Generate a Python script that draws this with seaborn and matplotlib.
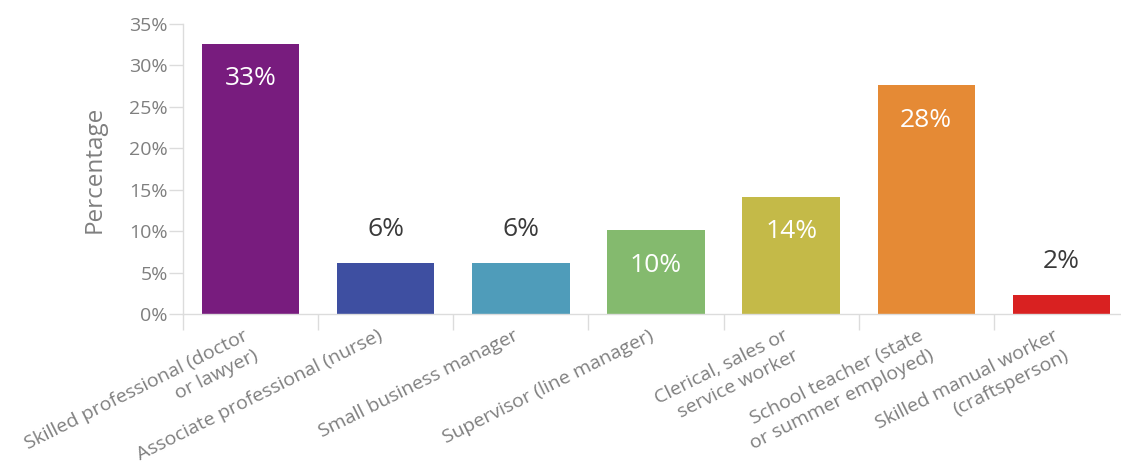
import matplotlib
matplotlib.use("Agg")
import matplotlib.pyplot as plt
import matplotlib.transforms as mtransforms
import seaborn as sns
import pandas as pd
from matplotlib.ticker import FuncFormatter, FixedLocator

occupations = [
    "Skilled professional (doctor\nor lawyer)",
    "Associate professional (nurse)",
    "Small business manager",
    "Supervisor (line manager)",
    "Clerical, sales or\nservice worker",
    "School teacher (state\nor summer employed)",
    "Skilled manual worker\n(craftsperson)",
]
percentages = [32.6, 6.2, 6.2, 10.1, 14.1, 27.6, 2.3]
bar_colors = ["#781c7e", "#3e4fa1", "#4f9cba", "#84ba6e", "#c4ba48", "#e58a35", "#d92121"]

sns.set_theme(style="white")
plt.rcParams["font.family"] = ["Open Sans", "DejaVu Sans"]

W, H = 1121, 470
fig = plt.figure(figsize=(W / 100, H / 100), dpi=100)
left, right, top, bottom = 183, 1129, 24, 314
ax = fig.add_axes([left / W, 1 - bottom / H, (right - left) / W, (bottom - top) / H])

df = pd.DataFrame({"occupation": occupations, "pct": percentages})
sns.barplot(data=df, x="occupation", y="pct", hue="occupation",
            palette=bar_colors, width=0.72, legend=False, ax=ax,
            saturation=1, linewidth=0)

ax.set_xlim(-0.5, len(occupations) - 0.5)
ax.set_ylim(0, 35)
ax.set_yticks(range(0, 36, 5))
ax.yaxis.set_major_formatter(FuncFormatter(lambda v, _: f"{v:.0f}%"))

axis_gray = "#dcdcdc"
text_gray = "#7f7f7f"
for side in ["top", "right"]:
    ax.spines[side].set_visible(False)
for side in ["left", "bottom"]:
    ax.spines[side].set_color(axis_gray)
    ax.spines[side].set_linewidth(1)

ax.tick_params(axis="y", which="major", length=10, width=1, color=axis_gray,
               labelcolor=text_gray, labelsize=14, pad=1, left=True)
ax.tick_params(axis="x", which="major", length=0, labelcolor=text_gray,
               labelsize=14, pad=9, bottom=True)
ax.xaxis.set_minor_locator(FixedLocator([i - 0.5 for i in range(len(occupations) + 1)]))
ax.tick_params(axis="x", which="minor", length=11.5, width=1, color=axis_gray, bottom=True)

ax.set_xticks(range(len(occupations)))
ax.set_xticklabels(occupations, rotation=26.5, ha="right", va="top",
                   rotation_mode="anchor", multialignment="right", linespacing=1.3)
shift = mtransforms.ScaledTranslation(-8 / 100, 0, fig.dpi_scale_trans)
for lbl in ax.get_xticklabels():
    lbl.set_transform(lbl.get_transform() + shift)

ax.set_xlabel("")
ax.set_ylabel("Percentage", color=text_gray, fontsize=17.5, labelpad=16)

for i, v in enumerate(percentages):
    label = f"{v:.0f}%"
    if v >= 10:
        ax.text(i, v - 4.2, label, ha="center", va="center", color="white", fontsize=19)
    else:
        ax.text(i, v + 4.0, label, ha="center", va="center", color="#3a3a3a", fontsize=19)

fig.savefig("out.png", dpi=100)
